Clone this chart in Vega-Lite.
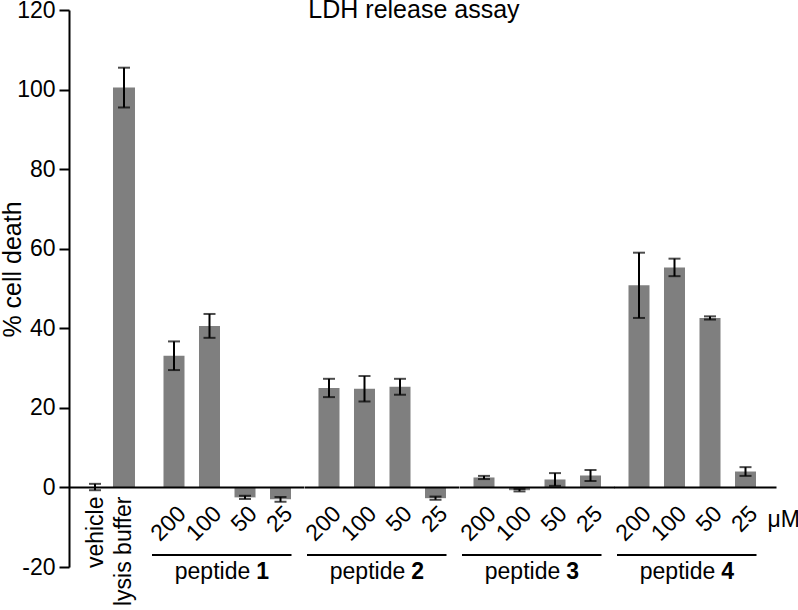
{
  "$schema": "https://vega.github.io/schema/vega-lite/v6.json",
  "padding": {"left": 0, "top": -2, "right": 0, "bottom": 0},
  "background": "white",
  "title": {"text": "LDH release assay", "fontSize": 25, "fontWeight": "normal", "font": "Liberation Sans", "color": "black", "anchor": "middle", "offset": -24, "dx": 14},
  "datasets": {
    "bars": [
      {"group": "ctrl", "label": "vehicle", "mean": 0.1, "err": 0.8},
      {"group": "ctrl", "label": "lysis buffer", "mean": 100.5, "err": 5.0},
      {"group": "p1", "label": "200", "mean": 33.1, "err": 3.6},
      {"group": "p1", "label": "100", "mean": 40.6, "err": 3.0},
      {"group": "p1", "label": "50", "mean": -2.5, "err": 0.4},
      {"group": "p1", "label": "25", "mean": -3.0, "err": 0.6},
      {"group": "p2", "label": "200", "mean": 25.0, "err": 2.3},
      {"group": "p2", "label": "100", "mean": 24.8, "err": 3.2},
      {"group": "p2", "label": "50", "mean": 25.3, "err": 2.0},
      {"group": "p2", "label": "25", "mean": -2.7, "err": 0.4},
      {"group": "p3", "label": "200", "mean": 2.5, "err": 0.4},
      {"group": "p3", "label": "100", "mean": -0.7, "err": 0.3},
      {"group": "p3", "label": "50", "mean": 2.0, "err": 1.6},
      {"group": "p3", "label": "25", "mean": 3.0, "err": 1.4},
      {"group": "p4", "label": "200", "mean": 50.8, "err": 8.2},
      {"group": "p4", "label": "100", "mean": 55.3, "err": 2.2},
      {"group": "p4", "label": "50", "mean": 42.6, "err": 0.4},
      {"group": "p4", "label": "25", "mean": 4.0, "err": 1.1}
    ],
    "one": [{"k": 1}]
  },
  "spacing": 0,
  "bounds": "flush",
  "resolve": {"scale": {"x": "independent", "y": "independent"}},
  "hconcat": [
    {
      "width": 81, "height": 557,
      "layer": [
        {
          "data": {"name": "bars"},
          "transform": [{"filter": "datum.group == 'ctrl'"}],
          "mark": {"type": "bar", "color": "#7f7f7f", "size": 22},
          "encoding": {
            "x": {"field": "label", "type": "nominal", "scale": {"type": "point", "padding": 0.897, "domain": ["vehicle", "lysis buffer"]},
                  "axis": {"title": null, "labelAngle": 270, "labelAlign": "right", "labelBaseline": "middle", "domain": false, "ticks": false, "offset": -80, "labelFontSize": 23, "labelColor": "black", "labelPadding": 9}},
            "y": {"field": "mean", "type": "quantitative", "scale": {"domain": [-20, 120], "nice": false, "zero": false},
                  "axis": {"title": "% cell death", "titleFontSize": 25, "titleFontWeight": "normal", "titleColor": "black", "labelFontSize": 23, "labelColor": "black", "values": [-20, 0, 20, 40, 60, 80, 100, 120], "labelExpr": "replace(datum.label, '\u2212', '-')", "tickSize": 10, "tickWidth": 2, "tickColor": "black", "domainColor": "black", "domainWidth": 2, "labelPadding": 4, "grid": false, "titleX": -49, "titleY": 259, "titleBaseline": "alphabetic", "titleAngle": -90, "titleAlign": "center"}}
          }
        },
        {"data": {"name": "one"}, "mark": {"type": "rule", "color": "black", "strokeWidth": 2}, "encoding": {"y": {"datum": 0}}},
        {
          "data": {"name": "bars"},
          "transform": [{"filter": "datum.group == 'ctrl'"}],
          "mark": {"type": "errorbar", "ticks": true, "size": 12, "thickness": 2, "color": "black"},
          "encoding": {
            "x": {"field": "label", "type": "nominal"},
            "y": {"field": "mean", "type": "quantitative", "title": "% cell death"},
            "yError": {"field": "err"}
          }
        }
      ]
    },
    {
      "width": 154.5, "height": 557,
      "layer": [
        {
          "data": {"name": "bars"},
          "transform": [{"filter": "datum.group == 'p1'"}],
          "mark": {"type": "bar", "color": "#7f7f7f", "size": 21},
          "encoding": {
            "x": {"field": "label", "type": "nominal", "scale": {"type": "point", "padding": 0.676, "domain": ["200", "100", "50", "25"]},
                  "axis": {"title": null, "labelAngle": -45, "domain": false, "ticks": false, "offset": -80, "labelFontSize": 23, "labelColor": "black", "labelPadding": 15}},
            "y": {"field": "mean", "type": "quantitative", "scale": {"domain": [-20, 120], "nice": false, "zero": false}, "axis": null}
          }
        },
        {"data": {"name": "one"}, "mark": {"type": "rule", "color": "black", "strokeWidth": 2}, "encoding": {"y": {"datum": 0}}},
        {
          "data": {"name": "bars"},
          "transform": [{"filter": "datum.group == 'p1'"}],
          "mark": {"type": "errorbar", "ticks": true, "size": 12, "thickness": 2, "color": "black"},
          "encoding": {
            "x": {"field": "label", "type": "nominal"},
            "y": {"field": "mean", "type": "quantitative"},
            "yError": {"field": "err"}
          }
        },
        {"data": {"name": "one"}, "mark": {"type": "rule", "color": "black", "strokeWidth": 2, "xOffset": -22, "x2Offset": 11}, "encoding": {"x": {"datum": "200"}, "x2": {"datum": "25"}, "y": {"datum": -17}}},
        {"data": {"values": [{"a": "peptide", "b": "1"}]}, "mark": {"type": "text", "align": "right", "baseline": "middle", "fontSize": 23, "dx": 23, "color": "black"}, "encoding": {"text": {"field": "a"}, "y": {"datum": -21.3}}},
        {"data": {"values": [{"a": "peptide", "b": "1"}]}, "mark": {"type": "text", "align": "left", "baseline": "middle", "fontSize": 23, "fontWeight": "bold", "dx": 29, "color": "black"}, "encoding": {"text": {"field": "b"}, "y": {"datum": -21.3}}}
      ]
    },
    {
      "width": 154.5, "height": 557,
      "layer": [
        {
          "data": {"name": "bars"},
          "transform": [{"filter": "datum.group == 'p2'"}],
          "mark": {"type": "bar", "color": "#7f7f7f", "size": 21},
          "encoding": {
            "x": {"field": "label", "type": "nominal", "scale": {"type": "point", "padding": 0.676, "domain": ["200", "100", "50", "25"]},
                  "axis": {"title": null, "labelAngle": -45, "domain": false, "ticks": false, "offset": -80, "labelFontSize": 23, "labelColor": "black", "labelPadding": 15}},
            "y": {"field": "mean", "type": "quantitative", "scale": {"domain": [-20, 120], "nice": false, "zero": false}, "axis": null}
          }
        },
        {"data": {"name": "one"}, "mark": {"type": "rule", "color": "black", "strokeWidth": 2}, "encoding": {"y": {"datum": 0}}},
        {
          "data": {"name": "bars"},
          "transform": [{"filter": "datum.group == 'p2'"}],
          "mark": {"type": "errorbar", "ticks": true, "size": 12, "thickness": 2, "color": "black"},
          "encoding": {
            "x": {"field": "label", "type": "nominal"},
            "y": {"field": "mean", "type": "quantitative"},
            "yError": {"field": "err"}
          }
        },
        {"data": {"name": "one"}, "mark": {"type": "rule", "color": "black", "strokeWidth": 2, "xOffset": -22, "x2Offset": 11}, "encoding": {"x": {"datum": "200"}, "x2": {"datum": "25"}, "y": {"datum": -17}}},
        {"data": {"values": [{"a": "peptide", "b": "2"}]}, "mark": {"type": "text", "align": "right", "baseline": "middle", "fontSize": 23, "dx": 23, "color": "black"}, "encoding": {"text": {"field": "a"}, "y": {"datum": -21.3}}},
        {"data": {"values": [{"a": "peptide", "b": "2"}]}, "mark": {"type": "text", "align": "left", "baseline": "middle", "fontSize": 23, "fontWeight": "bold", "dx": 29, "color": "black"}, "encoding": {"text": {"field": "b"}, "y": {"datum": -21.3}}}
      ]
    },
    {
      "width": 154.5, "height": 557,
      "layer": [
        {
          "data": {"name": "bars"},
          "transform": [{"filter": "datum.group == 'p3'"}],
          "mark": {"type": "bar", "color": "#7f7f7f", "size": 21},
          "encoding": {
            "x": {"field": "label", "type": "nominal", "scale": {"type": "point", "padding": 0.676, "domain": ["200", "100", "50", "25"]},
                  "axis": {"title": null, "labelAngle": -45, "domain": false, "ticks": false, "offset": -80, "labelFontSize": 23, "labelColor": "black", "labelPadding": 15}},
            "y": {"field": "mean", "type": "quantitative", "scale": {"domain": [-20, 120], "nice": false, "zero": false}, "axis": null}
          }
        },
        {"data": {"name": "one"}, "mark": {"type": "rule", "color": "black", "strokeWidth": 2}, "encoding": {"y": {"datum": 0}}},
        {
          "data": {"name": "bars"},
          "transform": [{"filter": "datum.group == 'p3'"}],
          "mark": {"type": "errorbar", "ticks": true, "size": 12, "thickness": 2, "color": "black"},
          "encoding": {
            "x": {"field": "label", "type": "nominal"},
            "y": {"field": "mean", "type": "quantitative"},
            "yError": {"field": "err"}
          }
        },
        {"data": {"name": "one"}, "mark": {"type": "rule", "color": "black", "strokeWidth": 2, "xOffset": -22, "x2Offset": 11}, "encoding": {"x": {"datum": "200"}, "x2": {"datum": "25"}, "y": {"datum": -17}}},
        {"data": {"values": [{"a": "peptide", "b": "3"}]}, "mark": {"type": "text", "align": "right", "baseline": "middle", "fontSize": 23, "dx": 23, "color": "black"}, "encoding": {"text": {"field": "a"}, "y": {"datum": -21.3}}},
        {"data": {"values": [{"a": "peptide", "b": "3"}]}, "mark": {"type": "text", "align": "left", "baseline": "middle", "fontSize": 23, "fontWeight": "bold", "dx": 29, "color": "black"}, "encoding": {"text": {"field": "b"}, "y": {"datum": -21.3}}}
      ]
    },
    {
      "width": 154.5, "height": 557,
      "layer": [
        {
          "data": {"name": "bars"},
          "transform": [{"filter": "datum.group == 'p4'"}],
          "mark": {"type": "bar", "color": "#7f7f7f", "size": 21},
          "encoding": {
            "x": {"field": "label", "type": "nominal", "scale": {"type": "point", "padding": 0.676, "domain": ["200", "100", "50", "25"]},
                  "axis": {"title": null, "labelAngle": -45, "domain": false, "ticks": false, "offset": -80, "labelFontSize": 23, "labelColor": "black", "labelPadding": 15}},
            "y": {"field": "mean", "type": "quantitative", "scale": {"domain": [-20, 120], "nice": false, "zero": false}, "axis": null}
          }
        },
        {"data": {"name": "one"}, "mark": {"type": "rule", "color": "black", "strokeWidth": 2, "xOffset": -25, "x2Offset": 31}, "encoding": {"x": {"datum": "200"}, "x2": {"datum": "25"}, "y": {"datum": 0}}},
        {
          "data": {"name": "bars"},
          "transform": [{"filter": "datum.group == 'p4'"}],
          "mark": {"type": "errorbar", "ticks": true, "size": 12, "thickness": 2, "color": "black"},
          "encoding": {
            "x": {"field": "label", "type": "nominal"},
            "y": {"field": "mean", "type": "quantitative"},
            "yError": {"field": "err"}
          }
        },
        {"data": {"name": "one"}, "mark": {"type": "rule", "color": "black", "strokeWidth": 2, "xOffset": -22, "x2Offset": 11}, "encoding": {"x": {"datum": "200"}, "x2": {"datum": "25"}, "y": {"datum": -17}}},
        {"data": {"values": [{"a": "peptide", "b": "4"}]}, "mark": {"type": "text", "align": "right", "baseline": "middle", "fontSize": 23, "dx": 23, "color": "black"}, "encoding": {"text": {"field": "a"}, "y": {"datum": -21.3}}},
        {"data": {"values": [{"a": "peptide", "b": "4"}]}, "mark": {"type": "text", "align": "left", "baseline": "middle", "fontSize": 23, "fontWeight": "bold", "dx": 29, "color": "black"}, "encoding": {"text": {"field": "b"}, "y": {"datum": -21.3}}},
        {"data": {"values": [{"u": "μM"}]}, "mark": {"type": "text", "align": "left", "baseline": "middle", "fontSize": 23, "dx": 22, "color": "black"}, "encoding": {"text": {"field": "u"}, "x": {"datum": "25"}, "y": {"datum": -8.3}}}
      ]
    }
  ],
  "config": {
    "view": {"stroke": null},
    "font": "Liberation Sans",
    "text": {"font": "Liberation Sans"},
    "axis": {"labelFont": "Liberation Sans", "titleFont": "Liberation Sans"}
  }
}
